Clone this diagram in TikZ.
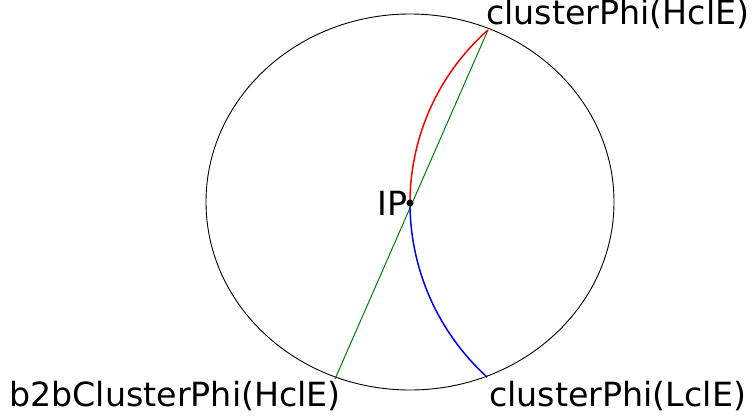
\documentclass[tikz,border=0pt]{standalone}
\usepackage{fontspec}
\setmainfont{DejaVu Sans}
\definecolor{mplgreen}{HTML}{008000}
\begin{document}
\begin{tikzpicture}[x=1pt,y=1pt,
  lbl/.style={inner sep=0pt,anchor=base west,font=\fontsize{33.3}{40}\selectfont},
  arcline/.style={line width=1.5pt},
  ipdot/.style={circle,fill=black,inner sep=0pt,minimum size=7pt}]
\useasboundingbox (0,0) rectangle (752,416);
\draw[line width=0.9pt] (410,214) ellipse[x radius=204,y radius=188];
\coordinate (HT) at (488,386);
\coordinate (B2B) at (335,37);
\coordinate (IP) at (410,213);
\draw[mplgreen,line width=1pt] (HT) -- (B2B);
\draw[red,arcline] (IP) arc[start angle=180,end angle=131.5,radius=230.9] coordinate (HTarc);
\draw[blue,arcline] (IP) arc[start angle=180,end angle=227.8,radius=235.1] coordinate (LT);
\node[ipdot] (IPdot) at (IP) {};
\node[lbl] (lHT) at (486,391) {clusterPhi(HclE)};
\node[lbl] (lIP) at (377,201) {IP};
\node[lbl] (lB2B) at (9,10) {b2bClusterPhi(HclE)};
\node[lbl] (lLT) at (489,10) {clusterPhi(LclE)};
\end{tikzpicture}
\end{document}
